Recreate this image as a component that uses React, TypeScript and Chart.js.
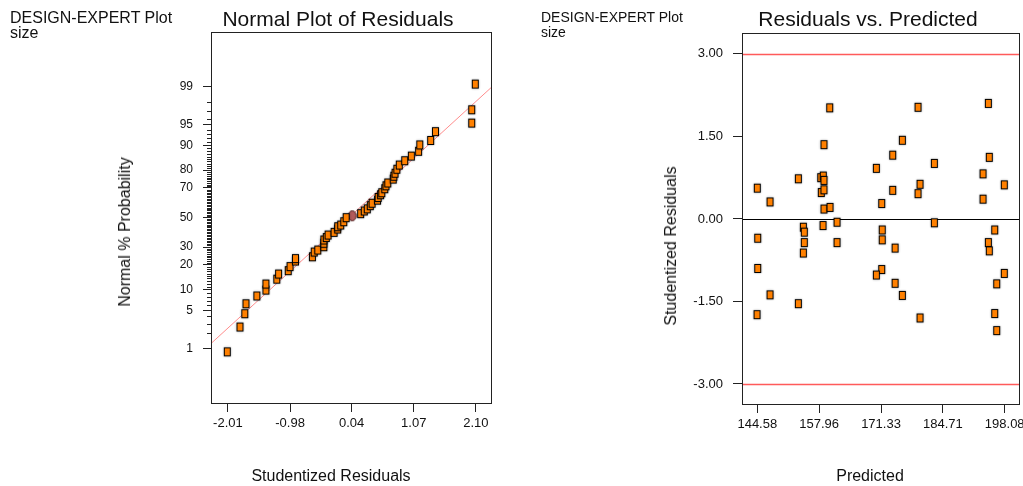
import React, { useEffect, useRef } from "react";
import { Chart, registerables } from "chart.js";

Chart.register(...registerables);

const FONT = '"Liberation Sans", Arial, sans-serif';

// ---------- Left chart: Normal Plot of Residuals ----------
const normalResiduals = [
  -2.02, -1.81, -1.73, -1.71, -1.53, -1.38, -1.38, -1.2, -1.17, -1.01, -0.98, -0.89, -0.89,
  -0.61, -0.58, -0.52, -0.42, -0.42, -0.42, -0.38, -0.35, -0.25, -0.19, -0.19, -0.14, -0.09,
  -0.05, 0.19, 0.25, 0.3, 0.35, 0.38, 0.47, 0.48, 0.52, 0.54, 0.59, 0.61, 0.64, 0.73, 0.74,
  0.76, 0.79, 0.83, 0.92, 1.03, 1.15, 1.17, 1.35, 1.43, 2.03, 2.03, 2.09,
];
const normalProbability = [
  0.86, 2.6, 4.4, 6.3, 8.2, 9.9, 11.9, 13.7, 15.8, 17.3, 19.2, 22.0, 23.3, 24.3, 27.0, 28.2,
  30.2, 32.4, 34.5, 36.1, 37.8, 39.6, 41.9, 43.5, 44.7, 47.0, 49.9, 52.7, 54.6, 56.1, 58.3,
  60.0, 62.1, 63.9, 65.7, 67.0, 69.5, 71.3, 73.0, 75.2, 76.8, 78.4, 80.4, 82.4, 84.3, 86.2,
  88.0, 90.1, 91.4, 93.6, 95.3, 97.2, 99.1,
];
const circleResidual = [0.05];
const circleProbability = [51.2];
const fitLineResidual = [-2.29, 2.36];
const fitLineProbability = [1.27, 98.96];
const probabilityTicks = [1, 5, 10, 20, 30, 50, 70, 80, 90, 95, 99];
const probabilityMinorTicks = Array.from({ length: 99 }, (_, i) => i + 1).filter(
  (p) => !probabilityTicks.includes(p)
);
const residualTicks = [-2.01, -0.98, 0.04, 1.07, 2.1];

// ---------- Right chart: Residuals vs. Predicted ----------
const predicted = [
  144.58, 147.33, 153.45, 160.24, 159.0, 158.29, 158.85, 159.0, 158.42, 159.0, 159.0, 160.3,
  170.32, 171.48, 173.86, 175.94, 173.86, 179.33, 179.77, 179.33, 182.86, 194.54, 194.75,
  193.39, 193.39, 197.99, 144.67, 144.67, 144.52, 147.33, 154.53, 154.74, 154.74, 154.53,
  153.45, 158.79, 161.82, 161.82, 171.59, 171.59, 171.48, 170.32, 174.37, 174.37, 175.94,
  179.77, 182.86, 195.92, 194.54, 194.75, 197.99, 196.35, 195.92, 196.35,
];
const studentized = [
  0.56, 0.31, 0.73, 2.02, 1.35, 0.75, 0.78, 0.7, 0.48, 0.53, 0.18, 0.21, 0.92, 0.28, 1.16,
  1.43, 0.52, 2.03, 0.63, 0.46, 1.01, 2.1, 1.12, 0.82, 0.36, 0.62, -0.35, -0.9, -1.74, -1.38,
  -0.15, -0.24, -0.43, -0.62, -1.54, -0.12, -0.06, -0.43, -0.2, -0.38, -0.92, -1.02, -0.53,
  -1.17, -1.39, -1.8, -0.07, -0.2, -0.43, -0.58, -0.99, -1.18, -1.72, -2.03,
];
const predictedTicks = [144.58, 157.96, 171.33, 184.71, 198.08];
const studentizedTicks = [-3, -1.5, 0, 1.5, 3];
const limitLines = [3, -3];
const zeroLine = [0];

// inverse standard normal CDF (probability scale transform)
function probit(p: number): number {
  const a = [-3.969683028665376e1, 2.209460984245205e2, -2.759285104469687e2, 1.38357751867269e2, -3.066479806614716e1, 2.506628277459239];
  const b = [-5.447609879822406e1, 1.615858368580409e2, -1.556989798598866e2, 6.680131188771972e1, -1.328068155288572e1];
  const c = [-7.784894002430293e-3, -3.223964580411365e-1, -2.400758277161838, -2.549732539343734, 4.374664141464968, 2.938163982698783];
  const d = [7.784695709041462e-3, 3.224671290700398e-1, 2.445134137142996, 3.754408661907416];
  const plow = 0.02425;
  if (p < plow) {
    const q = Math.sqrt(-2 * Math.log(p));
    return (((((c[0] * q + c[1]) * q + c[2]) * q + c[3]) * q + c[4]) * q + c[5]) / ((((d[0] * q + d[1]) * q + d[2]) * q + d[3]) * q + 1);
  }
  if (p > 1 - plow) {
    const q = Math.sqrt(-2 * Math.log(1 - p));
    return -(((((c[0] * q + c[1]) * q + c[2]) * q + c[3]) * q + c[4]) * q + c[5]) / ((((d[0] * q + d[1]) * q + d[2]) * q + d[3]) * q + 1);
  }
  const q = p - 0.5;
  const r = q * q;
  return ((((((a[0] * r + a[1]) * r + a[2]) * r + a[3]) * r + a[4]) * r + a[5]) * q) / (((((b[0] * r + b[1]) * r + b[2]) * r + b[3]) * r + b[4]) * r + 1);
}

function makeRectMarker(): HTMLCanvasElement {
  const c = document.createElement("canvas");
  c.width = 11;
  c.height = 13;
  const g = c.getContext("2d")!;
  g.shadowColor = "rgba(0,0,0,0.45)";
  g.shadowBlur = 2;
  g.fillStyle = "#ff8000";
  g.fillRect(2, 2, 7, 9);
  g.shadowBlur = 0;
  g.shadowColor = "transparent";
  g.strokeStyle = "#000";
  g.lineWidth = 1;
  g.strokeRect(2.5, 2.5, 6, 8);
  return c;
}

function makeCircleMarker(): HTMLCanvasElement {
  const c = document.createElement("canvas");
  c.width = 11;
  c.height = 13;
  const g = c.getContext("2d")!;
  g.beginPath();
  g.ellipse(5.5, 6.5, 4, 5, 0, 0, Math.PI * 2);
  g.fillStyle = "#b25a5a";
  g.fill();
  g.strokeStyle = "#4a1c1c";
  g.lineWidth = 1;
  g.stroke();
  return c;
}

const framePlugin = {
  id: "frame",
  beforeDatasetsDraw(chart: any, _args: any, opts: any) {
    const { ctx, chartArea } = chart;
    const ys = chart.scales.y;
    (opts.hLines || []).forEach((l: any) => {
      const y = Math.round(ys.getPixelForValue(l.value)) + 0.5;
      ctx.save();
      ctx.strokeStyle = l.color;
      ctx.lineWidth = l.width;
      ctx.beginPath();
      ctx.moveTo(chartArea.left, y);
      ctx.lineTo(chartArea.right, y);
      ctx.stroke();
      ctx.restore();
    });
  },
  afterDraw(chart: any, _args: any, opts: any) {
    const { ctx, chartArea } = chart;
    ctx.save();
    ctx.strokeStyle = "#222";
    ctx.lineWidth = 1;
    ctx.strokeRect(
      Math.round(chartArea.left) + 0.5,
      Math.round(chartArea.top) + 0.5,
      Math.round(chartArea.right - chartArea.left),
      Math.round(chartArea.bottom - chartArea.top)
    );
    const ys = chart.scales.y;
    (opts.minorY || []).forEach((v: number) => {
      const y = Math.round(ys.getPixelForValue(v)) + 0.5;
      ctx.beginPath();
      ctx.moveTo(chartArea.left - 4, y);
      ctx.lineTo(chartArea.left, y);
      ctx.stroke();
    });
    ctx.restore();
  },
};

const gridOpts = (len: number) => ({
  display: true,
  drawOnChartArea: false,
  drawTicks: true,
  tickLength: len,
  color: "#222",
  tickColor: "#222",
  lineWidth: 1,
});

export default function App() {
  const leftRef = useRef<HTMLCanvasElement>(null);
  const rightRef = useRef<HTMLCanvasElement>(null);

  useEffect(() => {
    Chart.defaults.font.family = FONT;
    const rectMarker = makeRectMarker();
    const circleMarker = makeCircleMarker();

    const left = new Chart(leftRef.current!, {
      type: "scatter",
      data: {
        datasets: [
          {
            data: normalResiduals.map((x, i) => ({ x, y: probit(normalProbability[i] / 100) })),
            pointStyle: rectMarker as any,
            pointRadius: 5,
            order: 0,
          },
          {
            data: circleResidual.map((x, i) => ({ x, y: probit(circleProbability[i] / 100) })),
            pointStyle: circleMarker as any,
            pointRadius: 5,
            order: 0,
          },
          {
            data: fitLineResidual.map((x, i) => ({ x, y: probit(fitLineProbability[i] / 100) })),
            showLine: true,
            borderColor: "#ff8c8c",
            borderWidth: 1,
            pointRadius: 0,
            order: 1,
          },
        ],
      },
      options: {
        responsive: false,
        animation: false,
        devicePixelRatio: 1,
        layout: { padding: { top: 32, right: 29, left: 0, bottom: 0 } },
        plugins: {
          legend: { display: false },
          tooltip: { enabled: false },
          frame: { minorY: probabilityMinorTicks.map((p) => probit(p / 100)) },
        } as any,
        scales: {
          x: {
            type: "linear",
            min: -2.29,
            max: 2.35,
            afterBuildTicks: (s: any) => {
              s.ticks = residualTicks.map((v) => ({ value: v }));
            },
            afterFit: (s: any) => {
              s.height = 83;
            },
            grid: gridOpts(9),
            border: { display: false },
            ticks: {
              autoSkip: false,
              maxRotation: 0,
              padding: 4,
              color: "#111",
              font: { size: 13, family: FONT },
              callback: (v: any) => Number(v).toFixed(2),
            },
          },
          y: {
            type: "linear",
            min: -3.29,
            max: 3.29,
            afterBuildTicks: (s: any) => {
              s.ticks = probabilityTicks.map((p) => ({ value: probit(p / 100) }));
            },
            afterFit: (s: any) => {
              s.width = 211;
            },
            grid: gridOpts(8),
            border: { display: false },
            ticks: {
              autoSkip: false,
              padding: 10,
              color: "#111",
              font: { size: 12, family: FONT },
              callback: (_v: any, i: number) => String(probabilityTicks[i]),
            },
          },
        },
      },
      plugins: [framePlugin as any],
    });

    const right = new Chart(rightRef.current!, {
      type: "scatter",
      data: {
        datasets: [
          {
            data: predicted.map((x, i) => ({ x, y: studentized[i] })),
            pointStyle: rectMarker as any,
            pointRadius: 5,
          },
        ],
      },
      options: {
        responsive: false,
        animation: false,
        devicePixelRatio: 1,
        layout: { padding: { top: 33, right: 24, left: 0, bottom: 0 } },
        plugins: {
          legend: { display: false },
          tooltip: { enabled: false },
          frame: {
            hLines: [
              ...limitLines.map((v) => ({ value: v, color: "#ff5a5a", width: 1.5 })),
              ...zeroLine.map((v) => ({ value: v, color: "#000", width: 1 })),
            ],
          },
        } as any,
        scales: {
          x: {
            type: "linear",
            min: 141.27,
            max: 201.17,
            afterBuildTicks: (s: any) => {
              s.ticks = predictedTicks.map((v) => ({ value: v }));
            },
            afterFit: (s: any) => {
              s.height = 82;
            },
            grid: gridOpts(9),
            border: { display: false },
            ticks: {
              autoSkip: false,
              maxRotation: 0,
              padding: 4,
              color: "#111",
              font: { size: 13, family: FONT },
              callback: (v: any) => Number(v).toFixed(2),
            },
          },
          y: {
            type: "linear",
            min: -3.364,
            max: 3.38,
            afterBuildTicks: (s: any) => {
              s.ticks = studentizedTicks.map((v) => ({ value: v }));
            },
            afterFit: (s: any) => {
              s.width = 222;
            },
            grid: gridOpts(9),
            border: { display: false },
            ticks: {
              autoSkip: false,
              padding: 10,
              color: "#111",
              font: { size: 13, family: FONT },
              callback: (v: any) => Number(v).toFixed(2),
            },
          },
        },
      },
      plugins: [framePlugin as any],
    });

    return () => {
      left.destroy();
      right.destroy();
    };
  }, []);

  const abs = (s: React.CSSProperties): React.CSSProperties => ({ position: "absolute", whiteSpace: "nowrap", ...s });

  return (
    <div
      style={{
        position: "absolute",
        left: 0,
        top: 0,
        width: 1023,
        height: 486,
        background: "#fff",
        overflow: "hidden",
        fontFamily: FONT,
        color: "#111",
      }}
    >
      <canvas ref={leftRef} width={520} height={486} style={{ position: "absolute", left: 0, top: 0 }} />
      <canvas ref={rightRef} width={523} height={486} style={{ position: "absolute", left: 520, top: 0 }} />

      <div style={abs({ left: 10, top: 10, fontSize: 16, lineHeight: "15px" })}>
        DESIGN-EXPERT Plot
        <br />
        size
      </div>
      <div style={abs({ left: 541, top: 10, fontSize: 14, lineHeight: "15px" })}>
        DESIGN-EXPERT Plot
        <br />
        size
      </div>

      <div style={abs({ left: 338, top: 8, fontSize: 21, lineHeight: "21px", transform: "translateX(-50%)" })}>
        Normal Plot of Residuals
      </div>
      <div style={abs({ left: 868, top: 8, fontSize: 21, lineHeight: "21px", transform: "translateX(-50%)" })}>
        Residuals vs. Predicted
      </div>

      <div style={abs({ left: 331, top: 468, fontSize: 16, lineHeight: "16px", transform: "translateX(-50%)" })}>
        Studentized Residuals
      </div>
      <div style={abs({ left: 870, top: 468, fontSize: 16, lineHeight: "16px", transform: "translateX(-50%)" })}>
        Predicted
      </div>

      <div
        style={abs({
          left: 125,
          top: 232,
          fontSize: 16,
          lineHeight: "16px",
          transform: "translate(-50%, -50%) rotate(-90deg)",
        })}
      >
        Normal % Probability
      </div>
      <div
        style={abs({
          left: 671,
          top: 246,
          fontSize: 16,
          lineHeight: "16px",
          transform: "translate(-50%, -50%) rotate(-90deg)",
        })}
      >
        Studentized Residuals
      </div>
    </div>
  );
}
